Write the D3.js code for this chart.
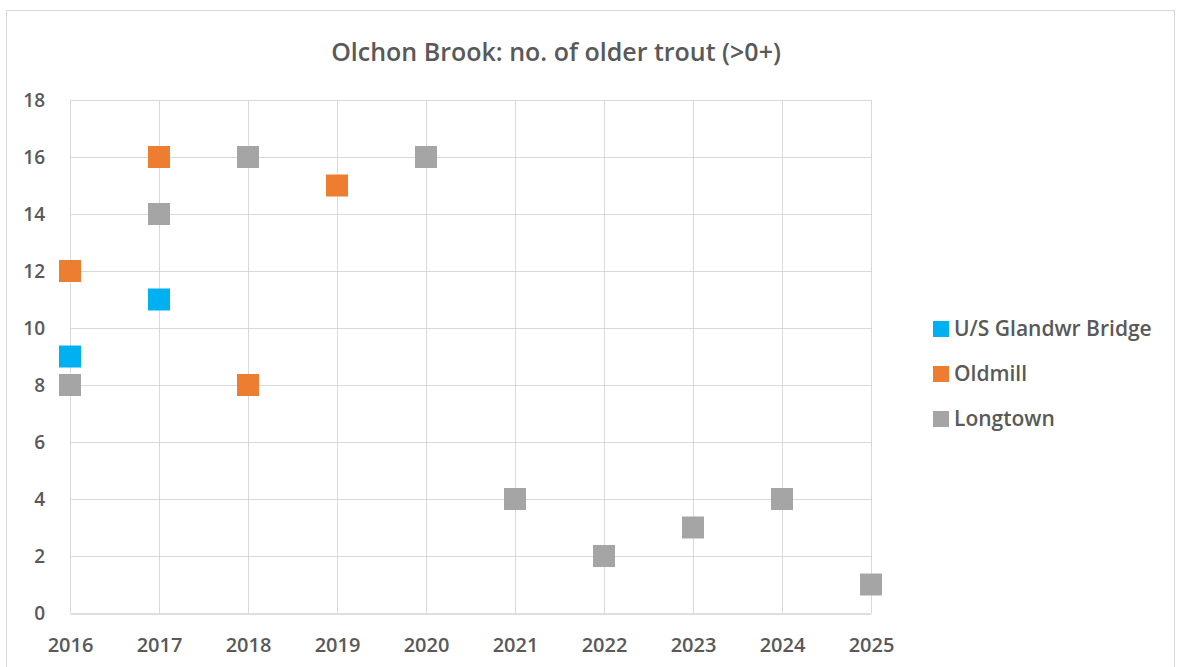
<!DOCTYPE html>
<html>
<head>
<meta charset="utf-8">
<script src="https://cdn.jsdelivr.net/npm/d3@7"></script>
<style>
  html, body { margin: 0; padding: 0; background: #fff; }
  svg { display: block; }
  text { font-family: "Open Sans", sans-serif; fill: #595959; }
</style>
</head>
<body>
<svg id="chart" width="1179" height="667"></svg>
<script>
// Survey years and yearly counts of older trout (>0+) per site
const years = [2016, 2017, 2018, 2019, 2020, 2021, 2022, 2023, 2024, 2025];
const yTicks = [0, 2, 4, 6, 8, 10, 12, 14, 16, 18];
const glandwr = [[2016, 9], [2017, 11]];
const oldmill = [[2016, 12], [2017, 16], [2018, 8], [2019, 15]];
const longtown = [[2016, 8], [2017, 14], [2018, 16], [2020, 16], [2021, 4], [2022, 2], [2023, 3], [2024, 4], [2025, 1]];
const seriesNames = ["U/S Glandwr Bridge", "Oldmill", "Longtown"];
const seriesColors = ["#00B0F0", "#ED7D31", "#A5A5A5"];

const series = [glandwr, oldmill, longtown].map((pts, i) => ({
  name: seriesNames[i], color: seriesColors[i], points: pts
}));

const svg = d3.select("#chart");
const plot = { left: 70, right: 871, top: 100, bottom: 613 };

// chart frame
svg.append("rect")
  .attr("x", 6.5).attr("y", 10.5).attr("width", 1168).attr("height", 660)
  .attr("fill", "#fff").attr("stroke", "#d9d9d9").attr("stroke-width", 1);

const x = d3.scaleLinear().domain([2016, 2025]).range([plot.left, plot.right]);
const y = d3.scaleLinear().domain([0, 18]).range([plot.bottom, plot.top]);

// horizontal gridlines
svg.append("g")
  .selectAll("line").data(yTicks.filter(t => t > 0)).join("line")
  .attr("x1", plot.left).attr("x2", plot.right)
  .attr("y1", d => Math.round(y(d)) + 0.5).attr("y2", d => Math.round(y(d)) + 0.5)
  .attr("stroke", "#d9d9d9").attr("stroke-width", 1);

// vertical gridlines
svg.append("g")
  .selectAll("line").data(years).join("line")
  .attr("x1", d => Math.round(x(d)) + 0.5).attr("x2", d => Math.round(x(d)) + 0.5)
  .attr("y1", plot.top).attr("y2", plot.bottom)
  .attr("stroke", "#d9d9d9").attr("stroke-width", 1);

// bottom axis
const xAxis = svg.append("g")
  .attr("transform", `translate(0,${plot.bottom + 0.5})`)
  .call(d3.axisBottom(x).tickValues(years).tickFormat(d3.format("d")).tickSize(0).tickPadding(24));
xAxis.select(".domain").attr("stroke", "#bfbfbf");
xAxis.selectAll("text")
  .style("font-family", "'Open Sans', sans-serif")
  .style("font-size", "20px").style("font-weight", "600").attr("fill", "#595959");

// left axis labels
const yAxis = svg.append("g")
  .attr("transform", `translate(${plot.left},0)`)
  .call(d3.axisLeft(y).tickValues(yTicks).tickSize(0).tickPadding(25));
yAxis.select(".domain").remove();
yAxis.selectAll("text")
  .style("font-family", "'Open Sans', sans-serif")
  .style("font-size", "19px").style("font-weight", "600").attr("fill", "#595959");

// markers
const size = 22;
series.forEach(s => {
  svg.append("g")
    .selectAll("rect").data(s.points).join("rect")
    .attr("x", d => x(d[0]) - size / 2)
    .attr("y", d => y(d[1]) - size / 2)
    .attr("width", size).attr("height", size)
    .attr("fill", s.color);
});

// title
svg.append("text")
  .attr("x", 556).attr("y", 61)
  .attr("text-anchor", "middle")
  .style("font-size", "25px").style("font-weight", "600")
  .text("Olchon Brook: no. of older trout (>0+)");

// legend
const legend = svg.append("g").attr("transform", "translate(933,329)");
const rows = legend.selectAll("g").data(series).join("g")
  .attr("transform", (d, i) => `translate(0,${i * 45})`);
rows.append("rect")
  .attr("x", 0).attr("y", -8).attr("width", 16).attr("height", 16)
  .attr("fill", d => d.color);
rows.append("text")
  .attr("x", 21).attr("y", 0).attr("dy", "0.35em")
  .style("font-size", "21px").style("font-weight", "600")
  .text(d => d.name);
</script>
</body>
</html>
